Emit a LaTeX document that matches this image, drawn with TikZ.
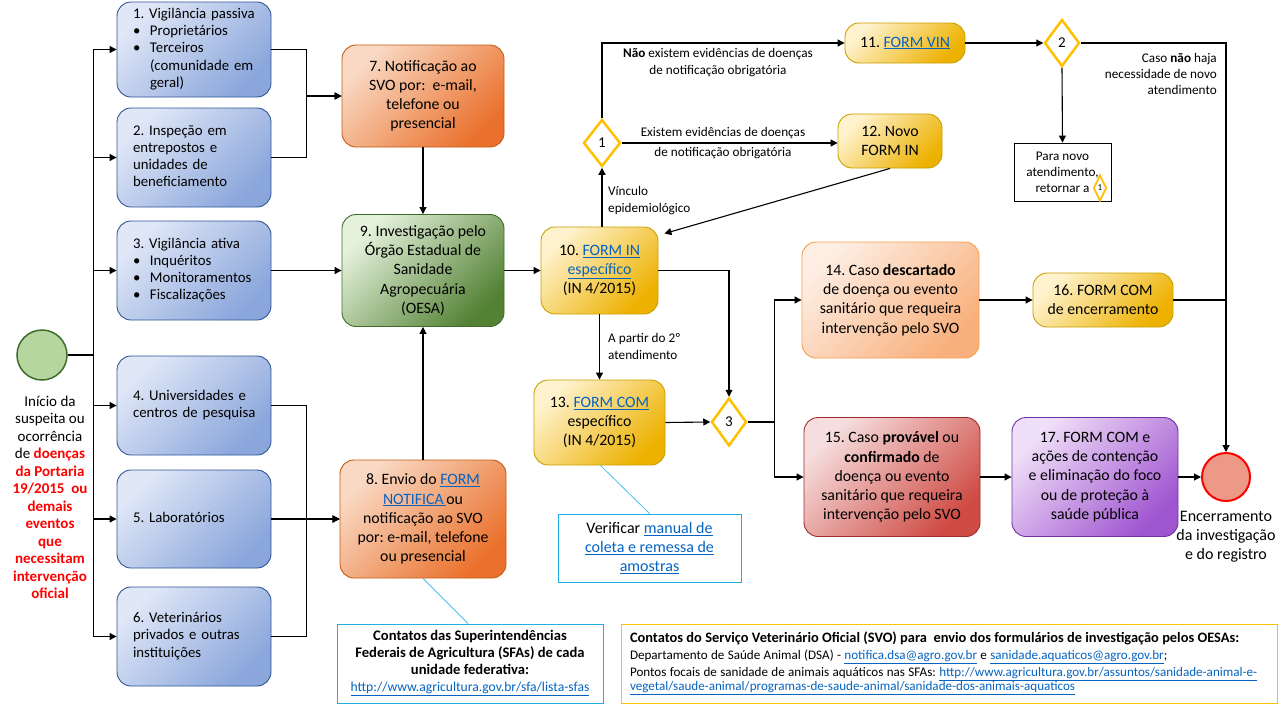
\documentclass[tikz,border=0pt]{standalone}
\usepackage{fontspec}
\setmainfont{Carlito}
\usetikzlibrary{shapes.geometric,arrows.meta}
\frenchspacing
\definecolor{link}{HTML}{0563C1}
\definecolor{blueA}{HTML}{E0E7F7}
\definecolor{blueB}{HTML}{8AA6DB}
\definecolor{blueD}{HTML}{2F5597}
\definecolor{oraA}{HTML}{F9D9C4}
\definecolor{oraB}{HTML}{EA712C}
\definecolor{oraD}{HTML}{C55A11}
\definecolor{grnA}{HTML}{E5F2DC}
\definecolor{grnB}{HTML}{548235}
\definecolor{grnD}{HTML}{3F6B2A}
\definecolor{ylwA}{HTML}{FFF3CF}
\definecolor{ylwB}{HTML}{EDB100}
\definecolor{ylwD}{HTML}{C9A000}
\definecolor{pchA}{HTML}{FDEDE2}
\definecolor{pchB}{HTML}{F8B07C}
\definecolor{pchD}{HTML}{F6A04D}
\definecolor{redA}{HTML}{F6DEDE}
\definecolor{redB}{HTML}{CF4B44}
\definecolor{redD}{HTML}{A02B2B}
\definecolor{purA}{HTML}{F0DFF8}
\definecolor{purB}{HTML}{A055D0}
\definecolor{purD}{HTML}{7030A0}
\definecolor{gold}{HTML}{FFC000}
\definecolor{cyanB}{HTML}{1EAEE8}
\definecolor{startF}{HTML}{B5D69F}
\definecolor{startD}{HTML}{3E6B2A}
\definecolor{endF}{HTML}{EC9A87}
\newcommand{\lnk}[1]{\textcolor{link}{\underline{#1}}}
\newcommand{\redb}[1]{\textcolor{red}{\textbf{#1}}}
\newcommand{\mybul}{\makebox[17pt][l]{•}}
\newcommand{\myind}{\hspace*{17pt}}
\tikzset{
  box/.style={draw, rounded corners=14pt, line width=0.9pt, inner sep=0pt, align=center, font=\fontsize{15.8}{19.2}\selectfont},
  bluebox/.style={box, draw=blueD, top color=blueA, bottom color=blueB, shading angle=45, text width=154pt, align=left, font=\fontsize{14.8}{17.3}\selectfont},
  orabox/.style={box, draw=oraD, top color=oraA, bottom color=oraB, shading angle=45},
  grnbox/.style={box, draw=grnD, top color=grnA, bottom color=grnB, shading angle=45},
  ylwbox/.style={box, draw=ylwD, top color=ylwA, bottom color=ylwB, shading angle=45},
  pchbox/.style={box, draw=pchD, top color=pchA, bottom color=pchB, shading angle=45},
  redbox/.style={box, draw=redD, top color=redA, bottom color=redB, shading angle=45},
  purbox/.style={box, draw=purD, top color=purA, bottom color=purB, shading angle=45},
  diam/.style={diamond, draw=gold, line width=2.5pt, fill=white, inner sep=0pt, font=\fontsize{15}{16}\selectfont},
  conn/.style={line width=1.1pt},
  arr/.style={conn, -{Triangle[length=7pt,width=7pt]}},
  lbl/.style={font=\fontsize{13.2}{17}\selectfont, inner sep=0pt},
  note/.style={draw=cyanB, line width=1pt, inner sep=0pt},
  noteline/.style={draw=cyanB!80, line width=0.8pt}
}
\begin{document}
\begin{tikzpicture}[x=1pt,y=-1pt]
\useasboundingbox (0,0) rectangle (1280,707);
% start
\node[circle, draw=startD, line width=1.5pt, fill=startF, minimum size=50pt, inner sep=0pt] (start) at (42,355) {};
\node[font=\fontsize{15}{17.5}\selectfont, align=center, inner sep=0pt] (startlbl) at (50,497.5)
 {Início da\\suspeita ou\\ocorrência\\de \redb{doenças}\\\redb{da Portaria}\\\redb{19/2015\ \ ou}\\\redb{demais}\\\redb{eventos}\\\redb{que}\\\redb{necessitam}\\\redb{intervenção}\\\redb{oficial}};
% left column
\node[bluebox, minimum height=95pt] (b1) at (194,49.5)
 {\begin{tabular}{@{\hspace{16pt}}l@{}}1. Vigilância passiva\\\mybul Proprietários\\\mybul Terceiros\\\myind(comunidade em\\\myind geral)\end{tabular}};
\node[bluebox, minimum height=99pt] (b2) at (194,157.5)
 {\begin{tabular}{@{\hspace{16pt}}l@{}}2. Inspeção em\\entrepostos e\\unidades de\\beneficiamento\end{tabular}};
\node[bluebox, minimum height=99pt] (b3) at (194,270.5)
 {\begin{tabular}{@{\hspace{16pt}}l@{}}3. Vigilância ativa\\\mybul Inquéritos\\\mybul Monitoramentos\\\mybul Fiscalizações\end{tabular}};
\node[bluebox, minimum height=99pt] (b4) at (194,405.5)
 {\begin{tabular}{@{\hspace{16pt}}l@{}}4. Universidades e\\centros de pesquisa\end{tabular}};
\node[bluebox, minimum height=98pt] (b5) at (194,519)
 {\begin{tabular}{@{\hspace{16pt}}l@{}}5. Laboratórios\end{tabular}};
\node[bluebox, minimum height=99pt] (b6) at (194,636.5)
 {\begin{tabular}{@{\hspace{16pt}}l@{}}6. Veterinários\\privados e outras\\instituições\end{tabular}};
% middle
\node[orabox, minimum width=162pt, minimum height=102pt] (b7) at (423,96)
 {7. Notificação ao\\SVO por:\ \ e-mail,\\telefone ou\\presencial};
\node[grnbox, minimum width=162pt, minimum height=112pt] (b9) at (423,270.5)
 {9. Investigação pelo\\Órgão Estadual de\\Sanidade\\Agropecuária\\(OESA)};
\node[orabox, minimum width=166pt, minimum height=118pt] (b8) at (423,519)
 {8. Envio do \lnk{FORM}\\\lnk{NOTIFICA\,}ou\\notificação ao SVO\\por: e-mail, telefone\\ou presencial};
\node[ylwbox, minimum width=117pt, minimum height=87pt] (b10) at (599.5,270.5)
 {10. \lnk{FORM IN}\\\lnk{específico}\\(IN 4/2015)};
\node[ylwbox, minimum width=131pt, minimum height=85pt] (b13) at (599.5,422.5)
 {13. \lnk{FORM COM}\\específico\\(IN 4/2015)};
\node[diam, minimum width=37pt, minimum height=47pt] (d1) at (602,143) {1};
\node[ylwbox, minimum width=120pt, minimum height=40pt] (b11) at (905,43) {11. \lnk{FORM VIN}};
\node[ylwbox, minimum width=104pt, minimum height=54pt] (b12) at (890,141) {12. Novo\\FORM IN};
\node[diam, minimum width=35pt, minimum height=47pt] (d2) at (1062,43) {2};
\node[draw, line width=0.9pt, minimum width=97pt, minimum height=58pt, inner sep=0pt, align=center, font=\fontsize{13.2}{16}\selectfont] (pn) at (1062.5,172)
 {Para novo\\atendimento,\\retornar a\hspace{14pt}};
\node[diam, line width=1.8pt, minimum width=13pt, minimum height=26pt, font=\fontsize{9}{10}\selectfont] (sd) at (1100,188) {1};
\node[diam, minimum width=35pt, minimum height=48pt] (d3) at (729,422) {3};
\node[pchbox, minimum width=177pt, minimum height=116pt] (b14) at (890.5,300)
 {14. Caso \textbf{descartado}\\de doença ou evento\\sanitário que requeira\\intervenção pelo SVO};
\node[redbox, minimum width=176pt, minimum height=119pt] (b15) at (892,477)
 {15. Caso \textbf{provável} ou\\\textbf{confirmado} de\\doença ou evento\\sanitário que requeira\\intervenção pelo SVO};
\node[ylwbox, minimum width=140pt, minimum height=54pt] (b16) at (1103,300) {16. FORM COM\\de encerramento};
\node[purbox, minimum width=166pt, minimum height=119pt] (b17) at (1095,477)
 {17. FORM COM e\\ações de contenção\\e eliminação do foco\\ou de proteção à\\saúde pública};
\node[circle, draw=red, line width=2pt, fill=endF, minimum size=48pt, inner sep=0pt] (end) at (1226,477) {};
\node[font=\fontsize{16}{19}\selectfont, align=center, inner sep=0pt] (endlbl) at (1226,537)
 {Encerramento\\da investigação\\e do registro};
% notes
\node[note, minimum width=183pt, minimum height=68pt, align=center, font=\fontsize{16}{19}\selectfont] (verif) at (649.5,548)
 {Verificar \lnk{manual de}\\\lnk{coleta e remessa de}\\\lnk{amostras}};
\node[note, minimum width=266pt, minimum height=79pt, align=center, font=\fontsize{14.6}{17}\selectfont\bfseries] (sfa) at (470,663.5)
 {Contatos das Superintendências\\Federais de Agricultura (SFAs) de cada\\unidade federativa:\\{\mdseries\fontsize{13.6}{17}\selectfont\lnk{http://www.agricultura.gov.br/sfa/lista-sfas}}};
\node[draw=gold, line width=1pt, minimum width=656pt, minimum height=79pt, inner xsep=9pt, inner ysep=0pt, text width=638pt, align=left] (svo) at (949,663.5)
 {\fontsize{14.4}{18}\selectfont\bfseries \mbox{Contatos do Serviço Veterinário Oficial (SVO) para\ \ envio dos formulários de investigação pelos OESAs:}\par
  \fontsize{13.1}{16.6}\selectfont\mdseries \mbox{Departamento de Saúde Animal (DSA) - \lnk{notifica.dsa@agro.gov.br} e \lnk{sanidade.aquaticos@agro.gov.br};}\par
  \mbox{Pontos focais de sanidade de animais aquáticos nas SFAs: \lnk{http://www.agricultura.gov.br/assuntos/sanidade-animal-e-}}\par
  \mbox{\lnk{vegetal/saude-animal/programas-de-saude-animal/sanidade-dos-animais-aquaticos}}};
% edge labels
\node[lbl, anchor=west, align=left] (lv) at (608,201) {Vínculo\\epidemiológico};
\node[lbl, anchor=west, align=left] (lp) at (608,346) {A partir do 2º\\atendimento};
\node[lbl, align=center] (ln) at (718,62.5) {\textbf{Não} existem evidências de doenças\\de notificação obrigatória};
\node[lbl, align=center, font=\fontsize{13.2}{20}\selectfont] (le) at (723,143) {Existem evidências de doenças\\de notificação obrigatória};
\node[lbl, anchor=east, align=right, font=\fontsize{13.2}{16}\selectfont] (lc) at (1217,74) {Caso \textbf{não} haja\\necessidade de novo\\atendimento};
% connectors
\draw[line width=2pt] (start.east) -- ++(26,0);
\foreach \b in {b1,b2,b3,b4,b5,b6} \draw[arr] (start.east) -- ++(26,0) |- (\b.west);
\draw[arr] (b1.east) -- ++(35,0) |- (b7.west);
\draw[arr] (b2.east) -- ++(35,0) |- (b7.west);
\draw[arr] (b3.east) -- (b9.west);
\draw[arr] (b4.east) -- ++(35,0) |- (b8.west);
\draw[arr] (b5.east) -- (b8.west);
\draw[arr] (b6.east) -- ++(35,0) |- (b8.west);
\draw[arr] (b7.south) -- (b9.north);
\draw[arr] (b8.north) -- (b9.south);
\draw[arr] (b9.east) -- (b10.west);
\draw[arr] (d1.south |- b10.north) -- (d1.south);
\draw[arr] (d1.north) |- (b11.west);
\draw[arr] (d1.east) -- (d1.east -| b12.west);
\draw[arr] (b11.east) -- (d2.west);
\draw[arr] (d2.south) -- (pn.north);
\draw[arr] (d2.east) -| (end.north);
\draw[arr] (b12.south) -- ([xshift=6pt,yshift=-7pt]b10.north east);
\draw[arr] (b10.east) -| (d3.north);
\draw[arr] (b10.south) -- (b13.north);
\draw[arr] (b13.east) -- (d3.west);
\draw[arr] (d3.east) -- ++(27,0) |- (b14.west);
\draw[arr] (d3.east) -- ++(27,0) |- (b15.west);
\draw[arr] (b14.east) -- (b16.west);
\draw[conn] (b16.east) -- (b16.east -| end.north);
\draw[arr] (b15.east) -- (b17.west);
\draw[arr] (b17.east) -- (end.west);
\draw[noteline] ([xshift=1pt]b13.south) -- (verif.north);
\draw[noteline] (b8.south) -- ([xshift=-2pt]sfa.north);
\end{tikzpicture}
\end{document}
